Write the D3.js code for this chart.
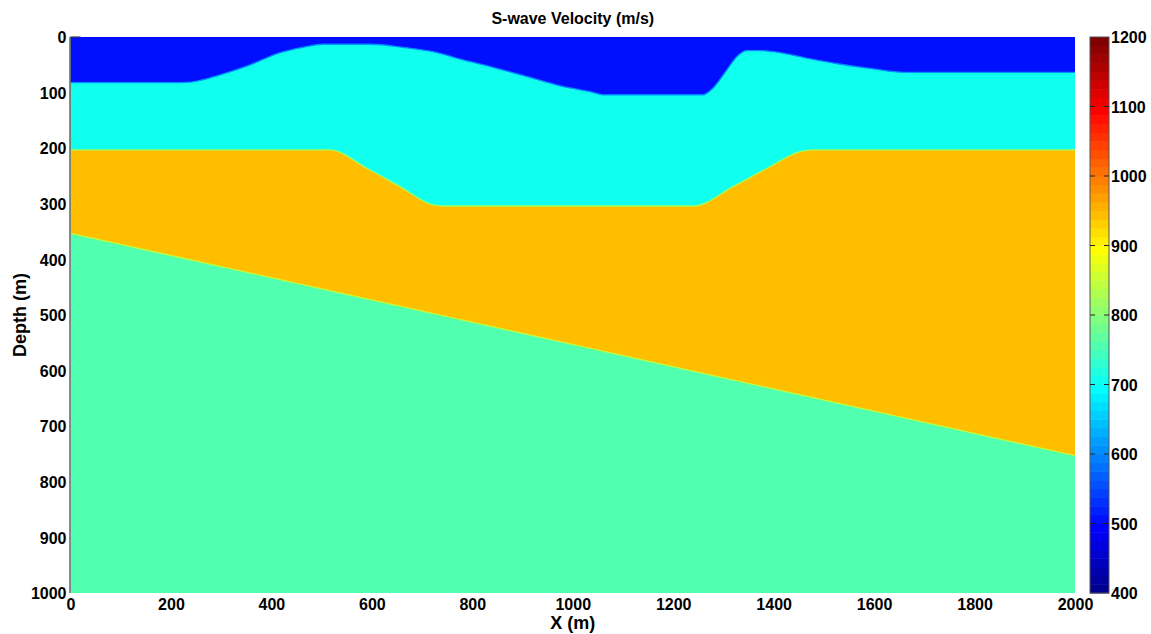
<!DOCTYPE html>
<meta charset="utf-8">
<style>
body { margin: 0; background: #fff; }
text { font-family: "Liberation Sans", Arial, sans-serif; font-weight: bold; fill: #000; }
.tick text { font-size: 16px; }
</style>
<svg width="1151" height="634"></svg>
<script src="https://d3js.org/d3.v7.min.js"></script>
<script>

// layer velocities (m/s), top to bottom
var layerVelocity = [500, 700, 940, 750];

// interface 1: water bottom (blue / cyan)
var iface1X     = [0, 200, 240, 298, 358, 418, 463, 503, 597, 662, 730, 776, 841, 909, 975, 1040, 1060, 1259, 1279, 1307, 1327, 1347, 1373, 1399, 1467, 1533, 1599, 1658, 2000];
var iface1Depth = [82, 82, 81, 68, 50, 28, 18.5, 13, 13, 18.5, 28, 40, 54.5, 71.4, 88, 99.5, 104, 104, 92, 59, 35, 24.6, 24.6, 26.4, 38.3, 49, 57.5, 63.5, 63.5];

// interface 2: cyan / orange
var iface2X     = [0, 516, 590, 656, 722, 745, 1240, 1319, 1387, 1453, 1478, 2000];
var iface2Depth = [203, 203, 236, 269, 302, 304, 304, 269, 236, 206, 203, 203];

// interface 3: dipping reflector (orange / green)
var iface3X     = [0, 2000];
var iface3Depth = [353, 753];

var xTicks = d3.range(0, 2001, 200);
var yTicks = d3.range(0, 1001, 100);
var cbTicks = d3.range(400, 1201, 100);

var svg = d3.select("svg");

var pLeft = 70.5, pRight = 1075, pTop = 37, pBottom = 593;

var x = d3.scaleLinear().domain([0, 2000]).range([pLeft, pRight]);
var y = d3.scaleLinear().domain([0, 1000]).range([pTop, pBottom]);

// matlab jet(64)
function jet(k) { // k = 1..64
  var r, g, b;
  if (k <= 8) { r = 0; g = 0; b = 0.5 + k / 16; }
  else if (k <= 24) { r = 0; g = (k - 8) / 16; b = 1; }
  else if (k <= 40) { r = (k - 24) / 16; g = 1; b = 1 - (k - 24) / 16; }
  else if (k <= 56) { r = 1; g = 1 - (k - 40) / 16; b = 0; }
  else { r = 1 - (k - 56) / 16; g = 0; b = 0; }
  return d3.rgb(r * 255, g * 255, b * 255).toString();
}
var cmin = 400, cmax = 1200;
function vColor(v) {
  var k = Math.floor((v - cmin) / (cmax - cmin) * 64) + 1;
  k = Math.max(1, Math.min(64, k));
  return jet(k);
}

svg.append("clipPath").attr("id", "plotclip")
  .append("rect").attr("x", pLeft).attr("y", pTop)
  .attr("width", pRight - pLeft).attr("height", pBottom - pTop);

var g = svg.append("g").attr("clip-path", "url(#plotclip)");

function pts(xs, ds) { return xs.map(function(d, i) { return [d, ds[i]]; }); }
var ifaces = [pts(iface1X, iface1Depth), pts(iface2X, iface2Depth), pts(iface3X, iface3Depth)];

var area = d3.area()
  .x(function(d) { return x(d[0]); })
  .y0(y(0))
  .y1(function(d) { return y(d[1]); })
  .curve(d3.curveMonotoneX);

var line = d3.line()
  .x(function(d) { return x(d[0]); })
  .y(function(d) { return y(d[1]); })
  .curve(d3.curveMonotoneX);

// bottom layer fills the whole panel
g.append("rect")
  .attr("x", x(0)).attr("y", y(0))
  .attr("width", x(2000) - x(0)).attr("height", y(1000) - y(0))
  .attr("fill", vColor(layerVelocity[3]));

// paint layers from deepest to shallowest
for (var i = 2; i >= 0; i--) {
  g.append("path").datum(ifaces[i])
    .attr("d", area)
    .attr("fill", vColor(layerVelocity[i]));
}

// smeared interface pixels (average of neighbouring velocities)
for (var i = 0; i < 3; i++) {
  g.append("path").datum(ifaces[i])
    .attr("d", line)
    .attr("fill", "none")
    .attr("stroke", vColor((layerVelocity[i] + layerVelocity[i + 1]) / 2))
    .attr("stroke-width", 1.3);
}

// axes (ticks hidden under the image, labels only)
var xAxis = svg.append("g")
  .attr("transform", "translate(0," + pBottom + ")")
  .call(d3.axisBottom(x).tickValues(xTicks).tickSize(0).tickPadding(6).tickFormat(d3.format("d")));
xAxis.select(".domain").remove();
xAxis.selectAll("text").attr("dy", "0.71em");

var yAxis = svg.append("g")
  .attr("transform", "translate(" + pLeft + ",0)")
  .call(d3.axisLeft(y).tickValues(yTicks).tickSize(0).tickPadding(4).tickFormat(d3.format("d")));
yAxis.select(".domain").remove();
yAxis.selectAll("text").attr("dy", "0.36em");
svg.selectAll(".tick text").attr("font-family", null).attr("font-size", null);
svg.selectAll(".tick").select("line").remove();
svg.selectAll("g").attr("font-family", null).attr("font-size", null);

svg.append("line")
  .attr("x1", pLeft - 0.5).attr("x2", pLeft - 0.5)
  .attr("y1", pTop).attr("y2", pBottom)
  .attr("stroke", "#3c3c48").attr("stroke-width", 1.2);
svg.append("line")
  .attr("x1", pLeft).attr("x2", pLeft + 10)
  .attr("y1", pTop).attr("y2", pTop)
  .attr("stroke", "#3c3c48").attr("stroke-width", 1.2);

// titles
svg.append("text")
  .attr("x", (pLeft + pRight) / 2).attr("y", 24)
  .attr("text-anchor", "middle").attr("font-size", 16)
  .text("S-wave Velocity (m/s)");

svg.append("text")
  .attr("x", (pLeft + pRight) / 2).attr("y", 629)
  .attr("text-anchor", "middle").attr("font-size", 18)
  .text("X (m)");

svg.append("text")
  .attr("transform", "translate(26," + ((pTop + pBottom) / 2) + ") rotate(-90)")
  .attr("text-anchor", "middle").attr("font-size", 18)
  .text("Depth (m)");

// colorbar
var cbLeft = 1090, cbRight = 1109;
var cb = d3.scaleLinear().domain([cmin, cmax]).range([pBottom, pTop]);
var levels = d3.range(1, 65);
var step = (cmax - cmin) / 64;

svg.append("g").selectAll("rect")
  .data(levels)
  .enter().append("rect")
  .attr("x", cbLeft)
  .attr("y", function(k) { return cb(cmin + k * step); })
  .attr("width", cbRight - cbLeft)
  .attr("height", function(k) { return cb(cmin + (k - 1) * step) - cb(cmin + k * step) + 0.5; })
  .attr("fill", function(k) { return jet(k); });

svg.append("rect")
  .attr("x", cbLeft).attr("y", pTop)
  .attr("width", cbRight - cbLeft).attr("height", pBottom - pTop)
  .attr("fill", "none").attr("stroke", "#555").attr("stroke-width", 1);

var cbAxis = svg.append("g")
  .attr("transform", "translate(" + cbRight + ",0)")
  .call(d3.axisRight(cb).tickValues(cbTicks).tickSize(0).tickPadding(2).tickFormat(d3.format("d")));
cbAxis.select(".domain").remove();
cbAxis.attr("font-family", null).attr("font-size", null);
cbAxis.selectAll("text").attr("dy", "0.36em");

var inner = cbTicks.filter(function(v) { return v > cmin && v < cmax; });
svg.append("g").selectAll("line.l")
  .data(inner).enter().append("line")
  .attr("x1", cbLeft).attr("x2", cbLeft + 5)
  .attr("y1", function(v) { return cb(v); }).attr("y2", function(v) { return cb(v); })
  .attr("stroke", "#222").attr("stroke-width", 1);
svg.append("g").selectAll("line.r")
  .data(inner).enter().append("line")
  .attr("x1", cbRight - 5).attr("x2", cbRight)
  .attr("y1", function(v) { return cb(v); }).attr("y2", function(v) { return cb(v); })
  .attr("stroke", "#222").attr("stroke-width", 1);

</script>
